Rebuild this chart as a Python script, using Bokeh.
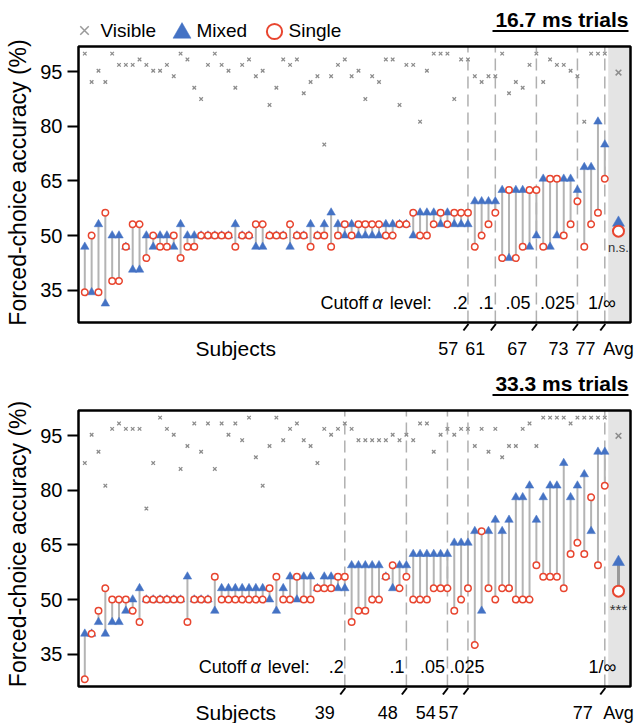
from bokeh.plotting import figure
from bokeh.layouts import column
from bokeh.models import (Range1d, FixedTicker, BoxAnnotation, Label, Arrow,
                          Legend, LegendItem)
from bokeh.embed import file_html
from bokeh.resources import INLINE

FONT = "Liberation Sans"
BLUE = "#4472C4"
RED = "#E8452F"
XGRAY = "#8c8c8c"
STEM = "#b4b4b4"
DASH = "#b0b0b0"

subjects = list(range(1, 78))
avg_pos = 79
y_ticks = [35, 50, 65, 80, 95]
alpha_labels = [".2", ".1", ".05", ".025", "1/\u221e"]

# ---------------- 16.7 ms trials ----------------
visible_16 = [100, 92.2, 95.3, 92.2, 100, 96.9, 96.9, 96.9, 98.4, 96.9,
              95.3, 95.3, 96.9, 93.8, 100, 98.4, 90.6, 87.5, 96.9, 100,
              96.9, 95.3, 90.6, 96.9, 98.4, 93.8, 95.3, 85.9, 90.6, 98.4,
              96.9, 98.4, 89.1, 92.2, 93.8, 75.0, 93.8, 96.9, 98.4, 93.8,
              95.3, 87.5, 93.8, 92.2, 98.4, 98.4, 85.9, 96.9, 96.9, 81.3,
              95.3, 100, 100, 100, 87.5, 98.4, 98.4, 93.8, 92.2, 93.8,
              93.8, 100, 89.1, 92.2, 90.6, 96.9, 100, 92.2, 98.4, 96.9,
              96.9, 95.3, 93.8, 81.3, 100, 100, 100]
mixed_16 = [46.9, 34.4, 53.1, 31.3, 50, 50, 46.9, 40.6, 40.6, 50,
            46.9, 50, 50, 46.9, 53.1, 50, 50, 50, 50, 50,
            50, 50, 53.1, 50, 50, 46.9, 46.9, 50, 50, 50,
            46.9, 50, 50, 53.1, 50, 53.1, 56.3, 53.1, 50, 53.1,
            50, 50, 50, 50, 53.1, 53.1, 53.1, 53.1, 50, 56.3,
            56.3, 56.3, 53.1, 56.3, 53.1, 53.1, 53.1, 59.4, 59.4, 59.4,
            59.4, 62.5, 43.8, 62.5, 62.5, 46.9, 50, 65.6, 46.9, 50,
            65.6, 65.6, 62.5, 68.8, 68.8, 81.3, 75.0]
single_16 = [34.4, 50, 34.4, 56.3, 37.5, 37.5, 46.9, 53.1, 53.1, 43.8,
             50, 46.9, 46.9, 50, 43.8, 46.9, 46.9, 50, 50, 50,
             50, 50, 46.9, 50, 50, 53.1, 53.1, 50, 50, 50,
             53.1, 50, 50, 46.9, 50, 50, 46.9, 50, 53.1, 50,
             53.1, 53.1, 53.1, 53.1, 50, 50, 53.1, 53.1, 56.3, 50,
             50, 53.1, 56.3, 53.1, 56.3, 56.3, 56.3, 46.9, 50, 53.1,
             56.3, 43.8, 62.5, 43.8, 46.9, 62.5, 62.5, 46.9, 65.6, 65.6,
             50, 53.1, 59.4, 46.9, 53.1, 56.3, 65.6]
avg_visible_16, avg_mixed_16, avg_single_16 = 94.8, 53.5, 51.2
cutoffs_16 = [57, 61, 67, 73, 77]

# ---------------- 33.3 ms trials ----------------
visible_33 = [87.5, 95.3, 90.6, 81.3, 96.9, 98.4, 96.9, 96.9, 96.9, 75.0,
              87.5, 100, 96.9, 95.3, 85.9, 92.2, 98.4, 90.6, 98.4, 85.9,
              98.4, 95.3, 98.4, 93.8, 100, 89.1, 81.3, 92.2, 100, 93.8,
              96.9, 98.4, 93.8, 92.2, 87.5, 96.9, 95.3, 96.9, 98.4, 96.9,
              93.8, 93.8, 93.8, 93.8, 93.8, 95.3, 93.8, 95.3, 93.8, 98.4,
              98.4, 90.6, 95.3, 96.9, 95.3, 96.9, 96.9, 92.2, 96.9, 90.6,
              96.9, 89.1, 92.2, 92.2, 96.9, 98.4, 92.2, 100, 100, 100,
              100, 98.4, 100, 100, 100, 100, 100]
mixed_33 = [40.6, 40.6, 43.8, 40.6, 43.8, 43.8, 46.9, 50, 53.1, 50,
            50, 50, 50, 50, 50, 56.3, 50, 50, 50, 46.9,
            53.1, 53.1, 53.1, 53.1, 53.1, 53.1, 53.1, 50, 46.9, 53.1,
            56.3, 50, 56.3, 56.3, 53.1, 56.3, 56.3, 53.1, 53.1, 59.4,
            59.4, 59.4, 59.4, 59.4, 56.3, 53.1, 59.4, 59.4, 62.5, 62.5,
            62.5, 62.5, 62.5, 62.5, 65.6, 65.6, 65.6, 68.8, 46.9, 68.8,
            71.9, 68.8, 71.9, 78.1, 78.1, 81.3, 71.9, 78.1, 81.3, 81.3,
            87.5, 78.1, 81.3, 84.4, 68.8, 90.6, 90.6]
single_33 = [28.1, 40.6, 46.9, 53.1, 50, 50, 50, 46.9, 43.8, 50,
             50, 50, 50, 50, 50, 43.8, 50, 50, 50, 56.3,
             50, 50, 50, 50, 50, 50, 50, 53.1, 56.3, 50,
             50, 56.3, 50, 50, 53.1, 53.1, 53.1, 56.3, 56.3, 43.8,
             46.9, 46.9, 50, 50, 56.3, 59.4, 53.1, 56.3, 50, 50,
             50, 53.1, 53.1, 53.1, 46.9, 50, 53.1, 37.5, 68.8, 53.1,
             50, 53.1, 53.1, 50, 50, 50, 59.4, 56.3, 56.3, 56.3,
             53.1, 62.5, 65.6, 62.5, 78.1, 59.4, 81.3]
avg_visible_33, avg_mixed_33, avg_single_33 = 95.0, 60.3, 52.3
cutoffs_33 = [39, 48, 54, 57, 77]

# ---------------- geometry (page pixels) ----------------
XPX = 520 / 76.0          # px per subject
YPX = 3.639               # px per percent
FRAME_LEFT = 76
FRAME_W = 560


def px_x(px):
    return 1 + (px - 84.3) / XPX


def lab(p, text, x, y, size, align="left", xo=0, style="normal",
        color="black", baseline="middle"):
    p.add_layout(Label(x=x, y=y, x_offset=xo, text=text,
                       text_font=FONT, text_font_size=f"{size}px",
                       text_align=align, text_baseline=baseline,
                       text_font_style=style, text_color=color))


def glyph_legend(p, rend, size, cx, cy, fig_h):
    g = int(round(size / 0.4))
    vx = cx - FRAME_LEFT - g / 2
    vy = fig_h - (cy + g / 2)
    leg = Legend(items=[LegendItem(label=" ", renderers=[rend])],
                 location=(vx, vy), glyph_width=g, glyph_height=g,
                 label_width=0, label_height=0, label_standoff=0,
                 label_text_font_size="1px", padding=0, spacing=0, margin=0,
                 border_line_alpha=0, background_fill_alpha=0)
    p.add_layout(leg)


def make_panel(vis, mix, sgl, a_v, a_m, a_s, cuts, num_px, word_px, title,
               fig_top, fig_bottom, box_top, sig, sig_px, sig_size, tick_dx,
               with_legend):
    y95 = box_top + 25.3

    def py(px):
        return 95 - (px - y95) / YPX

    box_bottom = box_top + 276
    yb, yt = py(box_bottom), py(box_top)
    xl, xr = px_x(78), px_x(630)

    p = figure(frame_width=FRAME_W, frame_height=fig_bottom - fig_top,
               x_range=Range1d(px_x(FRAME_LEFT), px_x(FRAME_LEFT + FRAME_W)),
               y_range=Range1d(py(fig_bottom), py(fig_top)),
               output_backend="svg", toolbar_location=None,
               x_axis_location=None,
               min_border_left=FRAME_LEFT, min_border_right=0,
               min_border_top=0, min_border_bottom=0)
    p.grid.visible = False
    p.outline_line_color = None

    ax = p.yaxis[0]
    ax.ticker = FixedTicker(ticks=y_ticks)
    ax.axis_line_color = None
    ax.major_tick_line_color = "black"
    ax.major_tick_line_width = 2
    ax.major_tick_out = 9
    ax.major_tick_in = 2
    ax.minor_tick_line_color = None
    ax.major_label_standoff = 5
    ax.major_label_text_font = FONT
    ax.major_label_text_font_size = "20px"
    ax.major_label_text_color = "black"
    ax.axis_label = "Forced-choice accuracy (%)"
    ax.axis_label_text_font = FONT
    ax.axis_label_text_font_size = "23px"
    ax.axis_label_text_font_style = "normal"
    ax.axis_label_text_color = "black"
    ax.axis_label_standoff = 6

    # average region shading and frame box
    p.add_layout(BoxAnnotation(left=77.5, right=xr, bottom=yb, top=yt,
                               fill_color="#e4e4e4", fill_alpha=1,
                               line_alpha=0, level="underlay"))
    p.add_layout(BoxAnnotation(left=xl, right=xr, bottom=yb, top=yt,
                               fill_alpha=0, line_color="black",
                               line_alpha=1, line_width=2.5, level="overlay"))

    # cutoff dashed lines
    p.segment(x0=cuts, y0=[yb] * len(cuts), x1=cuts, y1=[yt] * len(cuts),
              line_color=DASH, line_width=1.5, line_dash="12 6")

    p.segment(x0=subjects, y0=mix, x1=subjects, y1=sgl,
              line_color=STEM, line_width=2)
    p.scatter(subjects, mix, marker="triangle", size=8.5,
              fill_color=BLUE, line_color=BLUE, line_width=0.5)
    p.scatter(subjects, sgl, marker="circle", size=6.5,
              fill_color="white", line_color=RED, line_width=1.5)
    p.scatter(subjects, vis, marker="x", size=5, line_color=XGRAY,
              line_width=1.3)

    p.segment(x0=[avg_pos], y0=[a_m], x1=[avg_pos], y1=[a_s],
              line_color="#999999", line_width=3)
    p.scatter([avg_pos], [a_m], marker="triangle", size=12,
              fill_color=BLUE, line_color=BLUE, line_width=0.5)
    p.scatter([avg_pos], [a_s], marker="circle", size=11,
              fill_color="white", line_color=RED, line_width=2)
    p.scatter([avg_pos], [a_v], marker="x", size=8, line_color=XGRAY,
              line_width=1.5)
    lab(p, sig, avg_pos, py(sig_px), sig_size, align="center", color="#333333")

    # cutoff alpha annotations
    cy = py(box_top + 256)
    lab(p, "Cutoff", px_x(word_px[0]), cy, 18)
    lab(p, "\u03b1", px_x(word_px[1]), cy, 18, style="italic")
    lab(p, "level:", px_x(word_px[2]), cy, 18)
    for t, px in zip(alpha_labels, num_px):
        lab(p, t, px_x(px), cy, 18, align="center")

    # subject axis labels with slanted ticks
    ly = py(box_bottom + 26)
    for c, dx in zip(cuts, tick_dx):
        lab(p, str(c), c, ly, 18, align="right", xo=dx)
        p.add_layout(Arrow(end=None, x_start=c - 4.5 / XPX,
                           y_start=py(box_bottom + 8),
                           x_end=c + 0.5 / XPX, y_end=py(box_bottom + 1.5),
                           line_color="black", line_width=2))
    lab(p, "Avg", avg_pos, ly, 18, align="center")
    lab(p, "Subjects", px_x(195), ly, 21)

    # title with underline
    lab(p, title, px_x(628), py(box_top - 27.5), 21, align="right",
        style="bold")
    uy = py(box_top - 15.5)
    p.add_layout(Arrow(end=None, x_start=px_x(492), y_start=uy,
                       x_end=px_x(628), y_end=uy,
                       line_color="black", line_width=2))

    if with_legend:
        fh = fig_bottom - fig_top
        dxr = p.scatter([-50], [-50], marker="x", size=12, line_color="#999999",
                        line_width=1.5)
        dtr = p.scatter([-50], [-50], marker="triangle", size=18,
                        fill_color=BLUE, line_color=BLUE, line_width=0.5)
        dcr = p.scatter([-50], [-50], marker="circle", size=15,
                        fill_color="white", line_color=RED, line_width=2)
        glyph_legend(p, dxr, 12, 84, 30, fh)
        glyph_legend(p, dtr, 18, 181, 32, fh)
        glyph_legend(p, dcr, 15, 273.5, 31, fh)
        ty = py(30)
        lab(p, "Visible", px_x(100), ty, 19)
        lab(p, "Mixed", px_x(196), ty, 19)
        lab(p, "Single", px_x(288), ty, 19)
    return p


p1 = make_panel(visible_16, mixed_16, single_16, avg_visible_16, avg_mixed_16,
                avg_single_16, cutoffs_16,
                [459.5, 485.5, 517.5, 557, 601.5], [320, 371.7, 389.3],
                "16.7 ms trials", 0, 364, 46, "n.s.", 247, 13,
                [-9.7, -10, -9, -9, -9.3], True)
p2 = make_panel(visible_33, mixed_33, single_33, avg_visible_33, avg_mixed_33,
                avg_single_33, cutoffs_33,
                [335.8, 396.5, 432, 466.5, 602], [198.3, 250, 267.3],
                "33.3 ms trials", 364, 723, 410, "***", 609, 15,
                [-10, -8.7, -11.7, -9.5, -12], False)

layout = column(p1, p2)
open("out.html", "w").write(file_html(layout, INLINE))
